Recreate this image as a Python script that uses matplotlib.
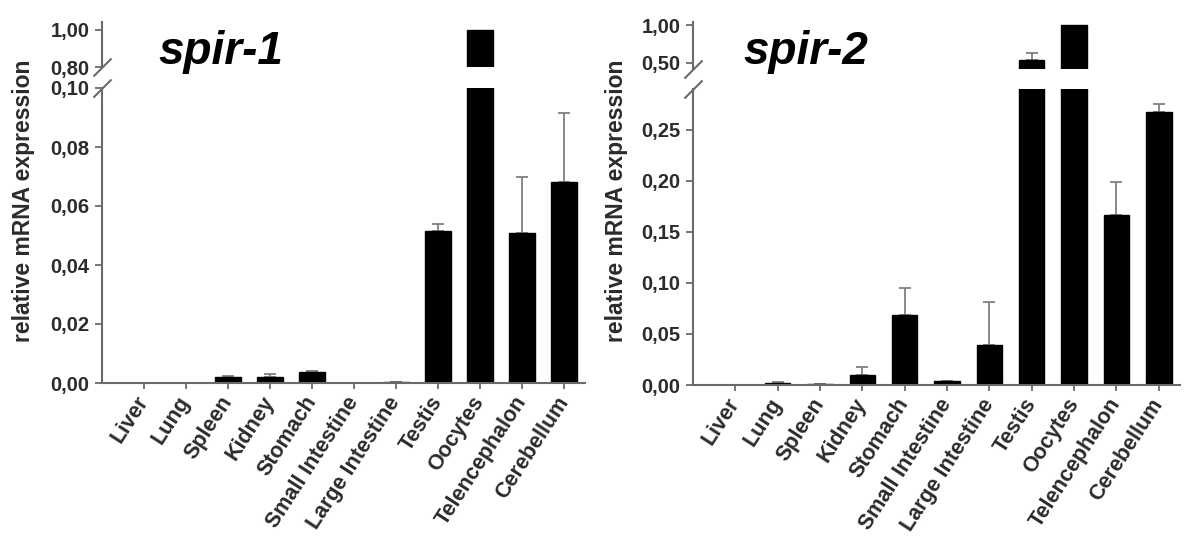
import matplotlib.pyplot as plt

plt.rcParams['font.family'] = ['Liberation Sans', 'DejaVu Sans']
plt.rcParams['font.weight'] = 'bold'

tissues = ["Liver", "Lung", "Spleen", "Kidney", "Stomach", "Small Intestine",
           "Large Intestine", "Testis", "Oocytes", "Telencephalon", "Cerebellum"]

# mean expression and upper error (SEM)
spir1_mean = [0.0, 0.0, 0.002, 0.002, 0.0037, 0.0, 0.0002, 0.0515, 1.0, 0.051, 0.068]
spir1_err = [0.0, 0.0, 0.0003, 0.001, 0.0002, 0.0, 0.0003, 0.0025, 0.0, 0.019, 0.0235]
spir2_mean = [0.0, 0.002, 0.001, 0.0098, 0.069, 0.0035, 0.039, 0.54, 1.0, 0.167, 0.267]
spir2_err = [0.0, 0.0012, 0.0003, 0.0078, 0.026, 0.0005, 0.042, 0.09, 0.0, 0.032, 0.008]

spir1_low_ticks = [0.00, 0.02, 0.04, 0.06, 0.08, 0.10]
spir1_high_ticks = [0.80, 1.00]
spir2_low_ticks = [0.00, 0.05, 0.10, 0.15, 0.20, 0.25]
spir2_high_ticks = [0.50, 1.00]

W, H = 1188, 537
axis_col = "#6a6a6a"
text_col = "#2b2b2b"


def comma(v):
    return f"{v:.2f}".replace(".", ",")


def rect(x0, x1, y_top, y_bot):
    # pixel box -> figure fraction
    return [x0 / W, 1 - y_bot / H, (x1 - x0) / W, (y_bot - y_top) / H]


def panel(fig, low_box, high_box, means, errs, low_lim, high_lim,
          low_ticks, high_ticks, title, title_x, label_x):
    xs = list(range(len(tissues)))
    ex = [x for x, e in zip(xs, errs) if e > 0]
    em = [m for m, e in zip(means, errs) if e > 0]
    ee = [e for e in errs if e > 0]

    lo = fig.add_axes(rect(*low_box))
    hi = fig.add_axes(rect(*high_box))
    for ax, lim, ticks in ((lo, low_lim, low_ticks), (hi, high_lim, high_ticks)):
        ax.bar(xs, means, width=0.6, color="black", edgecolor="black", zorder=2)
        ax.errorbar(ex, em, yerr=[[0] * len(ee), ee], fmt="none", ecolor="#808080",
                    elinewidth=1.3, capsize=4.3, capthick=1.3, zorder=1)
        ax.set_xlim(-1, 10.5)
        ax.set_ylim(*lim)
        ax.set_yticks(ticks)
        ax.set_yticklabels([comma(t) for t in ticks])
        ax.spines["top"].set_visible(False)
        ax.spines["right"].set_visible(False)
        ax.spines["left"].set_color(axis_col)
        ax.spines["left"].set_linewidth(1.5)
        ax.spines["bottom"].set_color(axis_col)
        ax.spines["bottom"].set_linewidth(1.5)
        ax.tick_params(axis="y", length=5, width=1.3, color=axis_col,
                       labelcolor=text_col, labelsize=14.5, pad=4)

    hi.spines["bottom"].set_visible(False)
    hi.set_xticks([])

    lo.set_xticks(xs)
    lo.set_xticklabels(tissues, rotation=57, ha="right", va="center",
                       rotation_mode="anchor")
    lo.tick_params(axis="x", length=4, width=1.3, color=axis_col,
                   labelcolor=text_col, labelsize=15.5, pad=7)

    # break marks on the y axis
    mk = dict(marker=[(-1, -1), (1, 1)], markersize=13, linestyle="none",
              color=axis_col, mec=axis_col, mew=1.5, clip_on=False)
    hi.plot([0], [0], transform=hi.transAxes, **mk)
    lo.plot([0], [1], transform=lo.transAxes, **mk)

    fig.text(title_x / W, 1 - 52 / H, title, fontsize=33, style="italic",
             weight="bold", va="center", ha="left", color="black")
    fig.text(label_x / W, 1 - 201 / H, "relative mRNA expression", rotation=90,
             fontsize=16.5, va="center", ha="center", color=text_col)


fig = plt.figure(figsize=(W / 100, H / 100), dpi=100)

panel(fig, (102, 585, 88, 383), (102, 585, 22, 67), spir1_mean, spir1_err,
      (0, 0.10), (0.80, 1.043), spir1_low_ticks, spir1_high_ticks,
      "spir-1", 158, 24)
panel(fig, (693, 1180, 89, 385), (693, 1180, 22, 69), spir2_mean, spir2_err,
      (0, 0.29), (0.42, 1.04), spir2_low_ticks, spir2_high_ticks,
      "spir-2", 743, 616)

fig.savefig("out.png", dpi=100)
